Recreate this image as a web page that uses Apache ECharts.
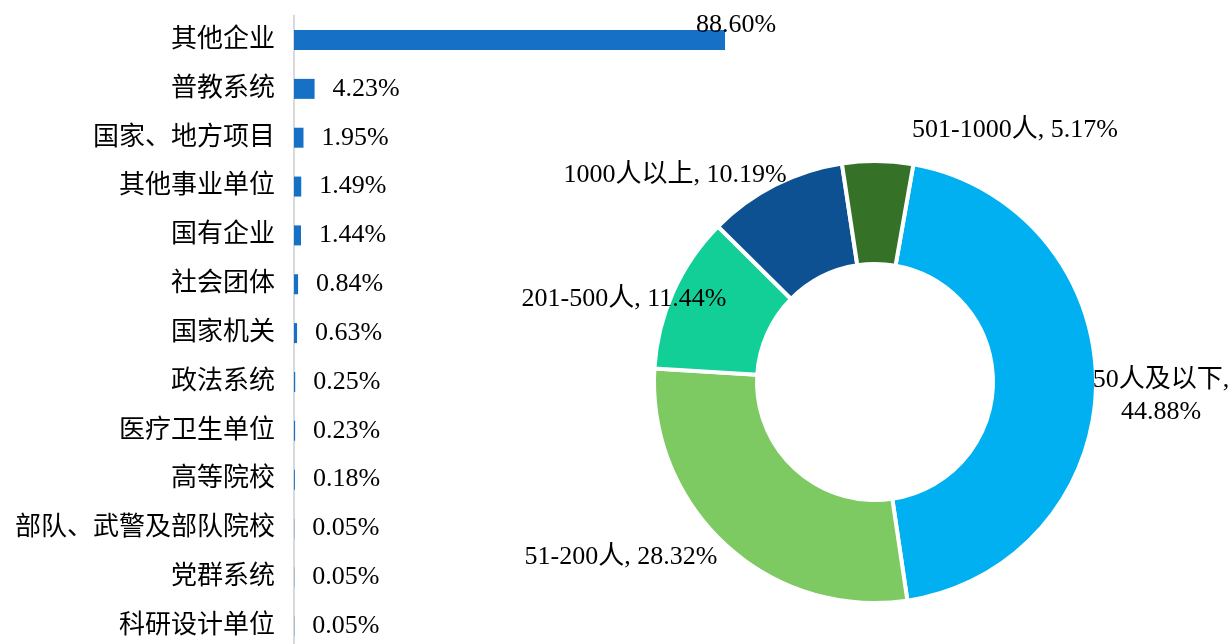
<!DOCTYPE html>
<html>
<head>
<meta charset="utf-8">
<script src="https://cdn.jsdelivr.net/npm/echarts@6/dist/echarts.min.js"></script>
<style>
  html, body { margin: 0; padding: 0; background: #fff; }
  #chart { width: 1232px; height: 644px; }
</style>
</head>
<body>
<div id="chart"></div>
<script>
// 单位类型占比（条形图）
const unitTypes = ['其他企业', '普教系统', '国家、地方项目', '其他事业单位', '国有企业', '社会团体', '国家机关',
    '政法系统', '医疗卫生单位', '高等院校', '部队、武警及部队院校', '党群系统', '科研设计单位'];
const unitShares = [88.60, 4.23, 1.95, 1.49, 1.44, 0.84, 0.63, 0.25, 0.23, 0.18, 0.05, 0.05, 0.05];

// 单位规模占比（环形图）
const sizeNames = ['50人及以下', '51-200人', '201-500人', '1000人以上', '501-1000人'];
const sizeShares = [44.88, 28.32, 11.44, 10.19, 5.17];
const sizeColors = ['#00b0f0', '#7dc962', '#12cf98', '#0d5193', '#367128'];

// 环形图标签位置
const sizeLabelPos = [[1161, 396], [621, 557], [624, 299], [675, 175], [1015, 130]];

const font = "'Liberation Serif', 'Noto Sans CJK SC', serif";

const chart = echarts.init(document.getElementById('chart'));

const barData = unitShares.map((v, i) => {
    const item = { value: v };
    if (i === 0) {
        item.label = { position: 'right', distance: 0, offset: [-29, -15] };
    }
    return item;
});

const pieData = sizeNames.map((n, i) => ({
    name: n,
    value: sizeShares[i],
    itemStyle: { color: sizeColors[i] }
}));

const option = {
    animation: false,
    backgroundColor: '#fff',
    grid: {
        left: 294, top: 15.6, width: 486.5, height: 635,
        containLabel: false, outerBoundsMode: 'none'
    },
    xAxis: { type: 'value', min: 0, max: 100, show: false },
    yAxis: {
        type: 'category',
        data: unitTypes,
        inverse: true,
        axisLine: { lineStyle: { color: '#d9d9d9', width: 2 } },
        axisTick: { show: false },
        axisLabel: { color: '#000', fontSize: 26, fontFamily: font, margin: 19 }
    },
    series: [
        {
            type: 'bar',
            data: barData,
            barWidth: 20,
            itemStyle: { color: '#1570c6' },
            label: {
                show: true,
                position: 'right',
                distance: 18,
                color: '#000',
                fontSize: 26,
                fontFamily: font,
                formatter: p => p.value.toFixed(2) + '%'
            }
        },
        {
            type: 'pie',
            center: [875, 382],
            radius: [118, 221],
            startAngle: 80,
            clockwise: true,
            avoidLabelOverlap: false,
            itemStyle: { borderColor: '#fff', borderWidth: 4 },
            label: {
                show: true,
                position: 'outside',
                color: '#000',
                fontSize: 26,
                lineHeight: 32,
                fontFamily: font,
                formatter: p => p.dataIndex === 0
                    ? p.name + ',\n' + p.value.toFixed(2) + '%'
                    : p.name + ', ' + p.value.toFixed(2) + '%'
            },
            labelLine: { show: false },
            labelLayout: p => ({
                x: sizeLabelPos[p.dataIndex][0],
                y: sizeLabelPos[p.dataIndex][1],
                align: 'center',
                verticalAlign: 'middle'
            }),
            emphasis: { disabled: true },
            data: pieData
        }
    ]
};

chart.setOption(option);
</script>
</body>
</html>
